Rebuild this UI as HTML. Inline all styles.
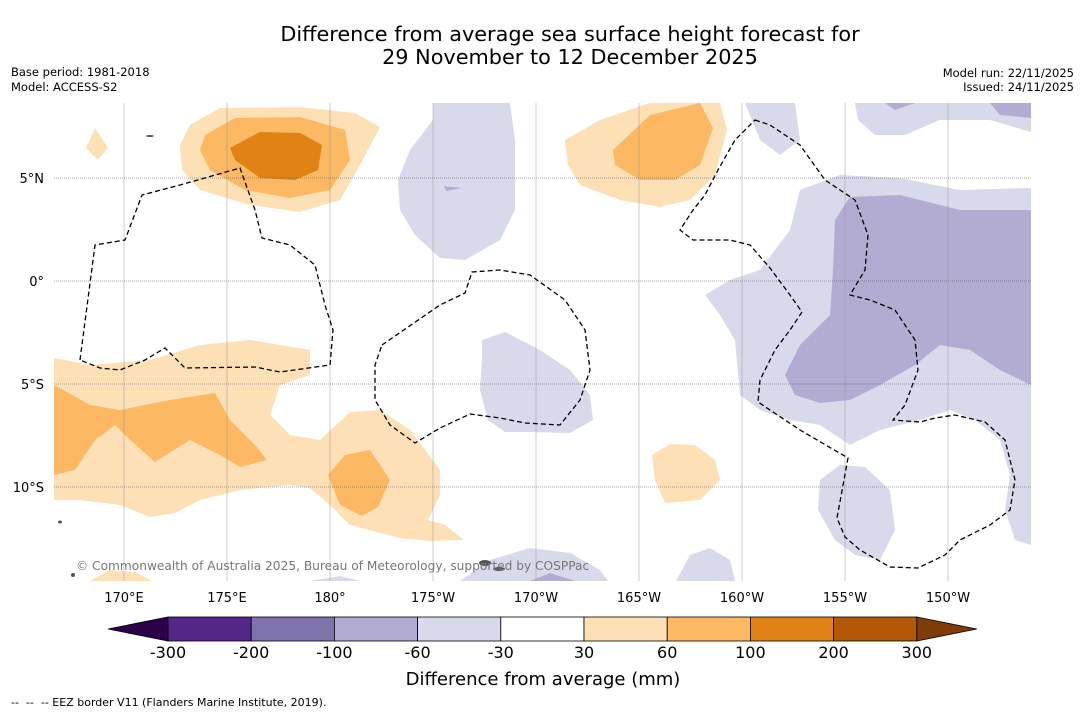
<!DOCTYPE html>
<html><head><meta charset="utf-8"><style>
body{margin:0;background:#fff;font-family:"Liberation Sans","DejaVu Sans",sans-serif;}
svg text{font-family:"DejaVu Sans","Liberation Sans",sans-serif;}
</style></head><body>
<svg id="chart" width="1085" height="713" viewBox="0 0 1085 713" xmlns="http://www.w3.org/2000/svg">
<rect width="1085" height="713" fill="#fff"/>
<text x="570" y="41" font-size="20.8" text-anchor="middle">Difference from average sea surface height forecast for</text>
<text x="570" y="64" font-size="20.8" text-anchor="middle">29 November to 12 December 2025</text>
<text x="11" y="76" font-size="11.5">Base period: 1981-2018</text>
<text x="11" y="91" font-size="11.5">Model: ACCESS-S2</text>
<text x="1074" y="77" font-size="11.5" text-anchor="end">Model run: 22/11/2025</text>
<text x="1074" y="91" font-size="11.5" text-anchor="end">Issued: 24/11/2025</text>
<defs><clipPath id="mapclip"><rect x="54" y="103" width="977" height="478"/></clipPath></defs>
<g clip-path="url(#mapclip)">
<g stroke="none">
<path fill="#fee0b6" d="M190,125 L220,108 L300,107 L355,113 L380,127 L360,165 L340,200 L300,212 L250,205 L200,190 L182,170 L180,145 Z"/>
<path fill="#fdb863" d="M205,135 L235,118 L300,117 L345,130 L350,160 L330,190 L290,198 L245,190 L210,170 L200,150 Z"/>
<path fill="#e08214" d="M230,148 L260,132 L300,133 L322,145 L318,170 L295,180 L260,178 L235,160 Z"/>
<path fill="#fee0b6" d="M86,148 L95,128 L108,148 L98,160 Z"/>
<path fill="#fee0b6" d="M565,140 L600,120 L650,103 L720,103 L727,130 L715,175 L690,200 L660,207 L620,200 L580,185 L568,165 Z"/>
<path fill="#fdb863" d="M613,150 L650,115 L700,103 L713,128 L700,165 L675,180 L640,180 L615,165 Z"/>
<path fill="#fee0b6" d="M54,358 L90,365 L150,360 L200,345 L250,340 L310,350 L310,375 L280,385 L270,415 L290,435 L320,440 L350,412 L380,410 L410,430 L440,470 L440,495 L428,520 L445,525 L464,540 L430,541 L400,538 L350,525 L330,505 L310,488 L290,485 L240,490 L200,500 L175,513 L150,517 L120,505 L80,500 L54,500 Z"/>
<path fill="#fdb863" d="M54,385 L90,405 L120,410 L170,400 L215,393 L230,420 L255,445 L267,460 L240,467 L220,455 L190,440 L155,462 L130,440 L115,425 L95,440 L75,470 L54,475 Z"/>
<path fill="#fdb863" d="M328,475 L345,455 L370,450 L390,480 L378,507 L362,516 L340,505 Z"/>
<path fill="#fee0b6" d="M652,455 L670,444 L695,445 L715,460 L720,480 L700,500 L665,503 L655,480 Z"/>
<path fill="#fee0b6" d="M90,581 L110,570 L135,572 L152,581 Z"/>
</g>
<g stroke="none">
<path fill="#d8daeb" d="M433,103 L510,103 L515,140 L515,210 L500,240 L465,260 L440,258 L415,235 L400,210 L398,180 L410,150 L433,120 Z"/>
<path fill="#b2abd2" d="M444,186 L462,188 L446,191 Z"/>
<path fill="#d8daeb" d="M745,103 L795,103 L800,140 L780,155 L760,140 Z"/>
<path fill="#d8daeb" d="M855,103 L1031,103 L1031,132 L990,120 L940,120 L905,135 L875,135 L858,120 Z"/>
<path fill="#b2abd2" d="M885,103 L915,103 L895,110 Z M990,103 L1031,103 L1031,118 L1000,115 Z"/>
<path fill="#d8daeb" d="M705,295 L730,280 L760,270 L790,230 L800,190 L840,175 L900,178 L960,190 L1031,188 L1031,545 L1015,540 L1005,510 L1010,475 L1000,440 L975,420 L950,410 L920,420 L880,430 L850,445 L820,425 L790,420 L760,410 L740,395 L735,340 L720,315 Z"/>
<path fill="#b2abd2" d="M835,220 L850,197 L900,195 L960,210 L1031,210 L1031,385 L1000,370 L970,350 L940,345 L915,365 L880,385 L850,400 L820,403 L795,395 L785,375 L800,345 L830,315 L833,270 Z"/>
<path fill="#d8daeb" d="M482,340 L505,332 L540,350 L570,370 L590,395 L593,420 L570,433 L530,432 L505,432 L488,420 L480,390 L482,360 Z"/>
<path fill="#d8daeb" d="M820,480 L840,465 L865,467 L890,490 L895,530 L880,560 L855,555 L835,540 L818,510 Z"/>
<path fill="#d8daeb" d="M460,581 L490,560 L530,548 L570,553 L600,570 L608,581 Z"/>
<path fill="#b2abd2" d="M530,581 L550,573 L575,581 Z"/>
<path fill="#d8daeb" d="M676,581 L690,555 L710,548 L730,560 L735,581 Z"/>
<path fill="#d8daeb" d="M310,581 L340,576 L360,581 Z"/>
</g>
<g id="grid"></g>
<g fill="none" stroke="#000" stroke-width="1.3" stroke-dasharray="5,3">
<path d="M80,360 L95,245 L125,240 L142,195 L180,185 L240,168 L255,210 L262,238 L290,245 L315,265 L325,305 L333,330 L330,365 L280,372 L255,367 L185,368 L165,348 L145,360 L120,370 L100,368 L80,360"/>
<path d="M382,345 L440,305 L465,293 L472,272 L500,270 L530,275 L565,300 L585,330 L590,370 L580,400 L560,425 L525,423 L500,418 L470,414 L440,428 L415,443 L390,425 L375,400 L375,365 Z"/>
<path d="M755,120 L770,125 L800,145 L825,180 L855,200 L868,235 L865,270 L850,295 L870,300 L895,310 L915,340 L918,370 L905,405 L893,420 L920,422 L935,418 L955,415 L985,422 L1005,440 L1015,480 L1010,510 L990,525 L960,540 L945,555 L918,568 L890,567 L860,550 L845,537 L837,518 L848,458 L800,430 L758,402 L760,380 L775,350 L790,330 L802,312 L790,295 L770,268 L750,245 L730,240 L693,240 L680,230 L693,210 L705,195 L718,170 L735,140 Z"/>
</g>
<g fill="#555">
<ellipse cx="485" cy="563" rx="6" ry="3"/><ellipse cx="499" cy="569" rx="6" ry="2"/><ellipse cx="150" cy="136" rx="4" ry="1"/><ellipse cx="60" cy="522" rx="2" ry="1.5"/><ellipse cx="73" cy="575" rx="2" ry="2"/>
</g>
<text x="76" y="570" font-size="12.2" fill="#777">© Commonwealth of Australia 2025, Bureau of Meteorology, supported by COSPPac</text>
</g>
<g id="axes"></g>
<g id="colorbar"></g>
<text x="543" y="685" font-size="18" text-anchor="middle">Difference from average (mm)</text>
<text x="11" y="706" font-size="11">--&#160;&#160;--&#160;&#160;-- EEZ border V11 (Flanders Marine Institute, 2019).</text>
</svg>
<script>
const lonTicks=[170,175,180,185,190,195,200,205,210];
const lonLabels=["170°E","175°E","180°","175°W","170°W","165°W","160°W","155°W","150°W"];
const latTicks=[5,0,-5,-10];
const latLabels=["5°N","0°","5°S","10°S"];
const levels=[-300,-200,-100,-60,-30,30,60,100,200,300];
const classColors=["#542788","#8073ac","#b2abd2","#d8daeb","#ffffff","#fee0b6","#fdb863","#e08214","#b35806"];
const extColors=["#2d004b","#7f3b08"];
const NS="http://www.w3.org/2000/svg";
function lonX(l){return 124+(l-170)*20.6;}
function latY(a){return 281-a*20.6;}
function mk(tag,attrs,parent){const e=document.createElementNS(NS,tag);for(const k in attrs)e.setAttribute(k,attrs[k]);parent.appendChild(e);return e;}
const grid=document.getElementById('grid'),axes=document.getElementById('axes'),cb=document.getElementById('colorbar');
lonTicks.forEach((l,i)=>{
  const ln=mk('line',{x1:lonX(l),x2:lonX(l),y1:103,y2:581,stroke:'#999','stroke-width':0.5},grid);
  
  
  const t=mk('text',{x:lonX(l),y:602,'font-size':13,'text-anchor':'middle'},axes);t.textContent=lonLabels[i];
  
  
});
latTicks.forEach((a,i)=>{
  const ln=mk('line',{x1:54,x2:1031,y1:latY(a),y2:latY(a),stroke:'#555','stroke-width':0.5,'stroke-dasharray':'1,1'},grid);
  
  
  const t=mk('text',{x:44,y:latY(a)+5,'font-size':13,'text-anchor':'end'},axes);t.textContent=latLabels[i];
  
  
});
const cx0=168,cw=83.2,cy=617,ch=24;
const t1=mk('polygon',{points:`108,${cy+ch/2} ${cx0},${cy} ${cx0},${cy+ch}`,fill:extColors[0],stroke:'#000','stroke-width':0.8},cb);


classColors.forEach((c,i)=>{
  const r=mk('rect',{x:cx0+i*cw,y:cy,width:cw,height:ch,fill:c,stroke:'#000','stroke-width':0.8},cb);
  
  
});
const xe=cx0+classColors.length*cw;
const t2=mk('polygon',{points:`${xe},${cy} ${xe+60},${cy+ch/2} ${xe},${cy+ch}`,fill:extColors[1],stroke:'#000','stroke-width':0.8},cb);


levels.forEach((v,i)=>{
  const t=mk('text',{x:cx0+i*cw,y:658,'font-size':16,'text-anchor':'middle'},cb);t.textContent=v;
  
  
});
</script>
</body></html>
